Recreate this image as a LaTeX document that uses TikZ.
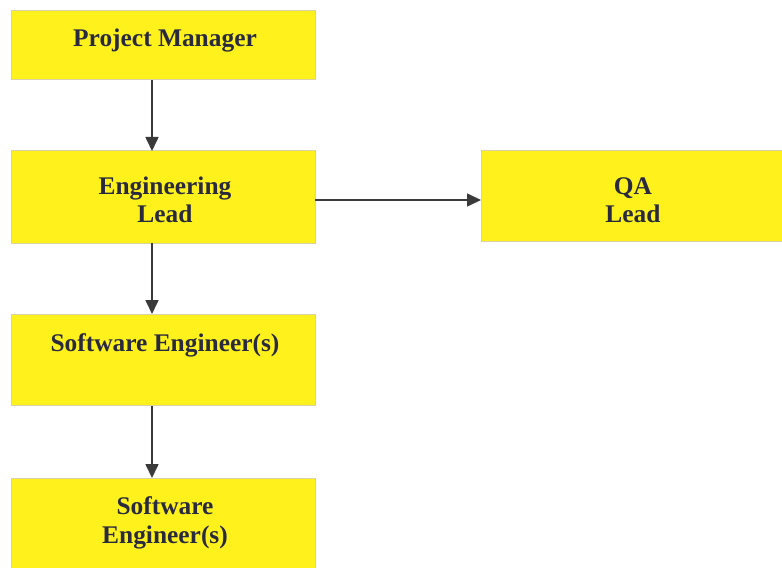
\documentclass[tikz,border=0pt]{standalone}
\usepackage{fontspec}
\setmainfont{Liberation Serif}
\usetikzlibrary{arrows.meta}
\definecolor{boxyellow}{HTML}{FFF21C}
\definecolor{boxedge}{HTML}{D8D2A6}
\definecolor{txtnavy}{HTML}{2A2A3E}
\definecolor{arrowgray}{HTML}{3A3A3A}
\tikzset{
  rolebox/.style={draw=boxedge, line width=1bp, fill=boxyellow, inner sep=0pt, outer sep=0pt},
  roletext/.style={font=\bfseries\fontsize{25.5}{29}\selectfont, text=txtnavy, align=center, anchor=base, inner sep=0pt},
  link/.style={draw=arrowgray, line width=1.6bp, -{Triangle[length=14bp,width=13bp]}}
}
\begin{document}
\begin{tikzpicture}[x=1bp,y=-1bp]
\useasboundingbox (0,0) rectangle (782,568);
% boxes
\node[rolebox, minimum width=303bp, minimum height=69bp] (pm) at (163.5,45.5) {};
\node[rolebox, minimum width=303bp, minimum height=92bp] (eng) at (163.5,197) {};
\node[rolebox, minimum width=302bp, minimum height=91bp] (qa) at (632.5,196) {};
\node[rolebox, minimum width=303bp, minimum height=91bp] (se1) at (163.5,360) {};
\node[rolebox, minimum width=303bp, minimum height=94bp] (se2) at (163.5,525) {};
% texts (anchor base = baseline of last line)
\node[roletext] (pmt) at (165,47) {Project Manager};
\node[roletext] (engt) at (165,223) {Engineering\\Lead};
\node[roletext] (qat) at (633,223) {QA\\Lead};
\node[roletext] (se1t) at (165,351) {Software Engineer(s)};
\node[roletext] (se2t) at (165,543) {Software\\Engineer(s)};
% connectors
\coordinate (a1) at (152,80);
\coordinate (a2) at (152,151);
\coordinate (b1) at (152,243);
\coordinate (b2) at (152,314);
\coordinate (c1) at (152,406);
\coordinate (c2) at (152,478);
\coordinate (h1) at (315,200);
\coordinate (h2) at (481,200);
\draw[link] (a1) -- (a2);
\draw[link] (b1) -- (b2);
\draw[link] (c1) -- (c2);
\draw[link] (h1) -- (h2);
\end{tikzpicture}
\end{document}
